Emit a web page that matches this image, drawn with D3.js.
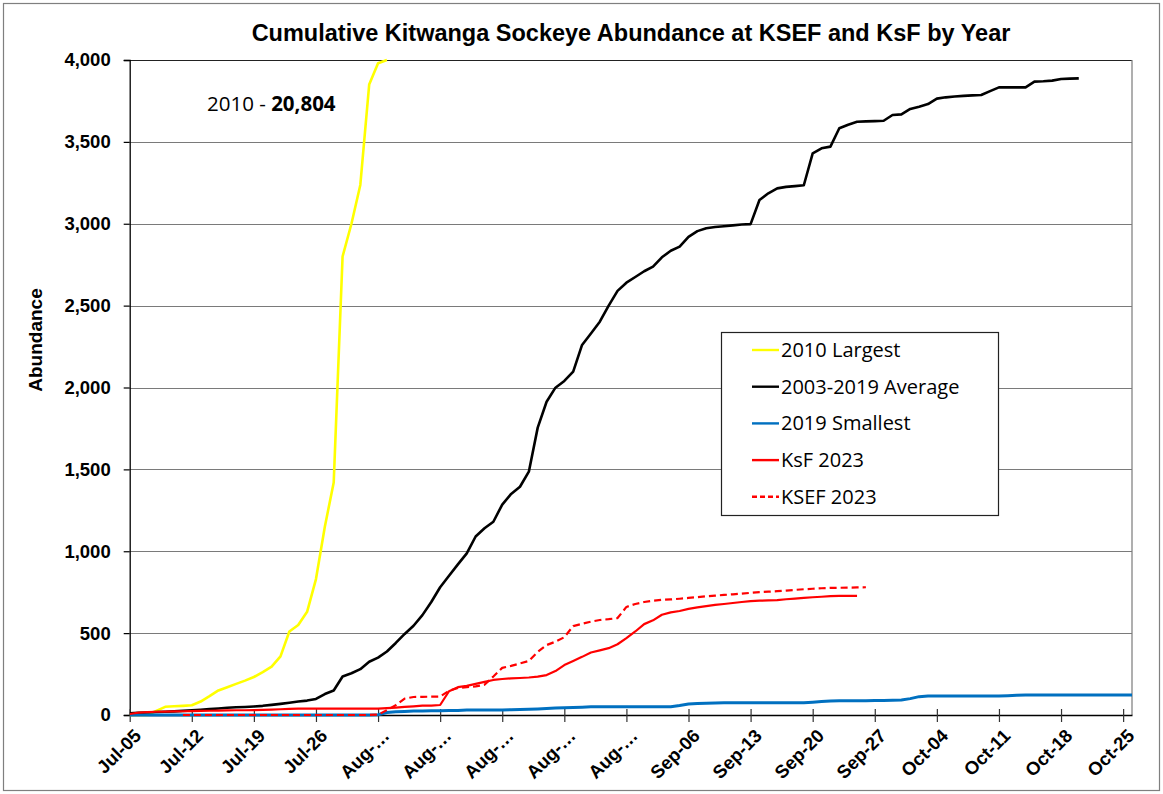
<!DOCTYPE html>
<html>
<head>
<meta charset="utf-8">
<script src="https://cdn.jsdelivr.net/npm/d3@7"></script>
<style>
body { margin: 0; background: #fff; }
</style>
</head>
<body>
<div id="chart-container"></div>
<script>
// daily cumulative counts, index 0 = Jul-05
var startDate = new Date(2023, 6, 5);
var endDate = new Date(2023, 9, 26);

var tickLabels = ["Jul-05", "Jul-12", "Jul-19", "Jul-26", "Aug-…", "Aug-…", "Aug-…", "Aug-…", "Aug-…",
                  "Sep-06", "Sep-13", "Sep-20", "Sep-27", "Oct-04", "Oct-11", "Oct-18", "Oct-25"];
var yTicks = [0, 500, 1000, 1500, 2000, 2500, 3000, 3500, 4000];

var largest2010 = [0, 0, 0, 25, 50, 53, 56, 60, 82, 115, 150, 170, 190, 210, 232, 262, 295, 358, 510, 550,
                   630, 830, 1150, 1420, 2800, 3000, 3237, 3850, 3980, 4000];

var average = [10, 13, 15, 18, 20, 22, 25, 28, 32, 36, 40, 44, 47, 49, 52, 56, 62, 68, 75, 82,
               88, 98, 128, 150, 235, 255, 280, 325, 350, 388, 440, 495, 545, 610, 690, 780, 850, 920, 987, 1090,
               1140, 1180, 1285, 1350, 1394, 1486, 1755, 1913, 1999, 2040, 2097, 2260, 2330, 2402, 2500, 2590, 2640, 2675, 2710, 2738,
               2795, 2835, 2860, 2920, 2955, 2972, 2980, 2985, 2990, 2995, 2998, 3145, 3186, 3216, 3225, 3230, 3235, 3430, 3461, 3471,
               3583, 3605, 3623, 3625, 3627, 3629, 3664, 3668, 3701, 3715, 3731, 3764, 3772, 3777, 3781, 3784, 3786, 3810, 3833, 3833,
               3833, 3833, 3868, 3870, 3874, 3884, 3886, 3888];

var smallest2019 = [0, 0, 0, 0, 0, 0, 0, 0, 0, 0, 0, 0, 0, 0, 0, 0, 0, 0, 0, 0,
                    0, 0, 0, 0, 0, 0, 0, 0, 2, 15, 20, 22, 24, 25, 26, 26, 27, 28, 30, 30,
                    30, 30, 31, 32, 33, 35, 37, 40, 42, 44, 46, 48, 50, 51, 51, 51, 51, 51, 51, 51,
                    51, 51, 58, 67, 70, 72, 74, 75, 75, 75, 75, 75, 75, 75, 75, 75, 75, 78, 82, 85,
                    87, 87, 87, 87, 88, 89, 90, 92, 100, 112, 116, 116, 116, 116, 116, 116, 116, 116, 116, 118,
                    121, 122, 122, 122, 122, 122, 122, 122, 122, 122, 122, 122, 122, 122];

var ksf2023 = [6, 14, 18, 20, 21, 22, 23, 24, 25, 26, 27, 28, 29, 29, 30, 31, 33, 35, 37, 39,
               39, 39, 39, 39, 39, 39, 39, 39, 39, 42, 45, 50, 53, 57, 57, 61, 145, 170, 178, 190,
               202, 214, 220, 224, 226, 229, 234, 244, 268, 305, 330, 355, 382, 395, 408, 432, 470, 510, 555, 578,
               612, 627, 635, 648, 657, 665, 672, 678, 684, 690, 695, 698, 700, 702, 707, 711, 715, 719, 722, 726,
               727, 727, 727];

// KSEF counts begin Jul-11 (day 6)
var ksefStartDay = 6;
var ksef2023 = [0, 0, 0, 0, 0, 0, 0, 0, 0, 0, 0, 0, 0, 0, 0, 0, 0, 0, 0, 0,
                0, 0, 2, 30, 60, 100, 110, 111, 112, 113, 148, 165, 170, 175, 185, 235, 288, 300, 315, 330,
                385, 427, 448, 475, 543, 557, 570, 580, 585, 592, 660, 678, 690, 698, 703, 706, 710, 715, 720, 725,
                729, 733, 737, 741, 746, 750, 753, 756, 760, 764, 768, 771, 774, 776, 777, 778, 779, 780];

var series = [
    {name: "2010 Largest", values: largest2010, start: 0, color: "#FFFF00", width: 2.6, dash: null},
    {name: "2003-2019 Average", values: average, start: 0, color: "#000000", width: 2.6, dash: null},
    {name: "2019 Smallest", values: smallest2019, start: 0, color: "#0070C0", width: 3, dash: null},
    {name: "KsF 2023", values: ksf2023, start: 0, color: "#FF0000", width: 2.2, dash: null},
    {name: "KSEF 2023", values: ksef2023, start: ksefStartDay, color: "#FF0000", width: 2.2, dash: "7,4"}
];

var W = 1163, H = 794;
var margin = {top: 60, right: 31, bottom: 79, left: 129.7};
var width = W - margin.left - margin.right;
var height = H - margin.top - margin.bottom;

var svg = d3.select('#chart-container')
    .append('svg')
    .attr('width', W)
    .attr('height', H)
    .style('font-family', '"Liberation Sans", Arial, sans-serif');

// outer chart border
svg.append('rect')
    .attr('x', 3.5).attr('y', 3.5)
    .attr('width', W - 7).attr('height', H - 7)
    .attr('fill', '#fff')
    .attr('stroke', '#7f7f7f')
    .attr('stroke-width', 1.2);

var x = d3.scaleTime()
    .domain([startDate, endDate])
    .range([0, width]);

var y = d3.scaleLinear()
    .domain([0, 4000])
    .range([height, 0]);

var main = svg.append('g')
    .attr('transform', 'translate(' + margin.left + ',' + margin.top + ')');

svg.append('defs').append('clipPath')
    .attr('id', 'plot-clip')
    .append('rect')
    .attr('x', 0).attr('y', -2)
    .attr('width', width).attr('height', height + 4);

// horizontal gridlines
main.append('g')
    .selectAll('line')
    .data(yTicks)
    .enter().append('line')
    .attr('x1', 0).attr('x2', width)
    .attr('y1', function (d) { return Math.round(y(d)) + 0.5; })
    .attr('y2', function (d) { return Math.round(y(d)) + 0.5; })
    .attr('stroke', function (d) { return d === 4000 ? '#222' : '#7a7a7a'; })
    .attr('stroke-width', 1.2);

// right edge of plot area
main.append('line')
    .attr('x1', width).attr('x2', width)
    .attr('y1', 0).attr('y2', height)
    .attr('stroke', '#7a7a7a')
    .attr('stroke-width', 1.2);

// y axis
var yAxis = d3.axisLeft(y)
    .tickValues(yTicks)
    .tickSize(6)
    .tickPadding(13)
    .tickFormat(d3.format(','));
var yg = main.append('g').call(yAxis);
yg.select('.domain').attr('stroke', '#000').attr('stroke-width', 1.3);
yg.selectAll('.tick line').attr('stroke', '#000').attr('stroke-width', 1.2);
yg.selectAll('.tick text')
    .attr('font-size', 18.5)
    .attr('font-weight', 'bold')
    .attr('font-family', '"Liberation Sans", Arial, sans-serif')
    .attr('fill', '#000');

// x axis, weekly ticks
var xTickDates = tickLabels.map(function (d, i) { return d3.timeDay.offset(startDate, i * 7); });
var xAxis = d3.axisBottom(x)
    .tickValues(xTickDates)
    .tickSizeInner(7)
    .tickSizeOuter(0)
    .tickFormat(function (d, i) { return tickLabels[i]; });
var xg = main.append('g')
    .attr('transform', 'translate(0,' + height + ')')
    .call(xAxis);
xg.select('.domain').attr('stroke', '#000').attr('stroke-width', 1.3);
xg.selectAll('.tick line').attr('stroke', '#333').attr('stroke-width', 1.2).attr('y1', -6);
xg.selectAll('.tick text')
    .attr('font-size', 18.5)
    .attr('font-weight', 'bold')
    .attr('font-family', '"Liberation Sans", Arial, sans-serif')
    .attr('fill', '#000')
    .attr('text-anchor', 'end')
    .attr('dy', null)
    .attr('y', null)
    .attr('transform', 'translate(12,22) rotate(-45)');

// the series lines
var line = d3.line()
    .x(function (d) { return x(d.date); })
    .y(function (d) { return y(d.value); });

var lines = main.append('g').attr('clip-path', 'url(#plot-clip)');
series.forEach(function (s) {
    var pts = s.values.map(function (v, i) {
        return {date: d3.timeDay.offset(startDate, s.start + i), value: v};
    });
    lines.append('path')
        .datum(pts)
        .attr('d', line)
        .attr('fill', 'none')
        .attr('stroke', s.color)
        .attr('stroke-width', s.width)
        .attr('stroke-linejoin', 'round')
        .attr('stroke-dasharray', s.dash);
});

// title
svg.append('text')
    .attr('x', 631)
    .attr('y', 41)
    .attr('text-anchor', 'middle')
    .attr('font-size', 23.5)
    .attr('font-weight', 'bold')
    .text('Cumulative Kitwanga Sockeye Abundance at KSEF and KsF by Year');

// y axis title
svg.append('text')
    .attr('transform', 'translate(42,340) rotate(-90)')
    .attr('text-anchor', 'middle')
    .attr('font-size', 19)
    .attr('font-weight', 'bold')
    .text('Abundance');

// note for the clipped 2010 total
var note = svg.append('text')
    .attr('x', 207)
    .attr('y', 111)
    .attr('font-family', '"Open Sans", sans-serif')
    .attr('font-size', 20.5);
note.append('tspan').text('2010 - ');
note.append('tspan').attr('font-weight', 'bold').text('20,804');

// legend
var legend = svg.append('g').attr('transform', 'translate(721,332)');
legend.append('rect')
    .attr('x', 0.5).attr('y', 0.5)
    .attr('width', 277).attr('height', 183)
    .attr('fill', '#fff')
    .attr('stroke', '#222')
    .attr('stroke-width', 1.2);

var items = legend.selectAll('.item')
    .data(series)
    .enter().append('g')
    .attr('transform', function (d, i) { return 'translate(0,' + (18 + i * 36.7) + ')'; });
items.append('line')
    .attr('x1', 31).attr('x2', 58)
    .attr('y1', 0).attr('y2', 0)
    .attr('stroke', function (d) { return d.color; })
    .attr('stroke-width', 2.4)
    .attr('stroke-dasharray', function (d) { return d.dash ? '5,3' : null; });
items.append('text')
    .attr('x', 60)
    .attr('y', 7)
    .attr('font-family', '"Open Sans", sans-serif')
    .attr('font-size', 20)
    .text(function (d) { return d.name; });
</script>
</body>
</html>
